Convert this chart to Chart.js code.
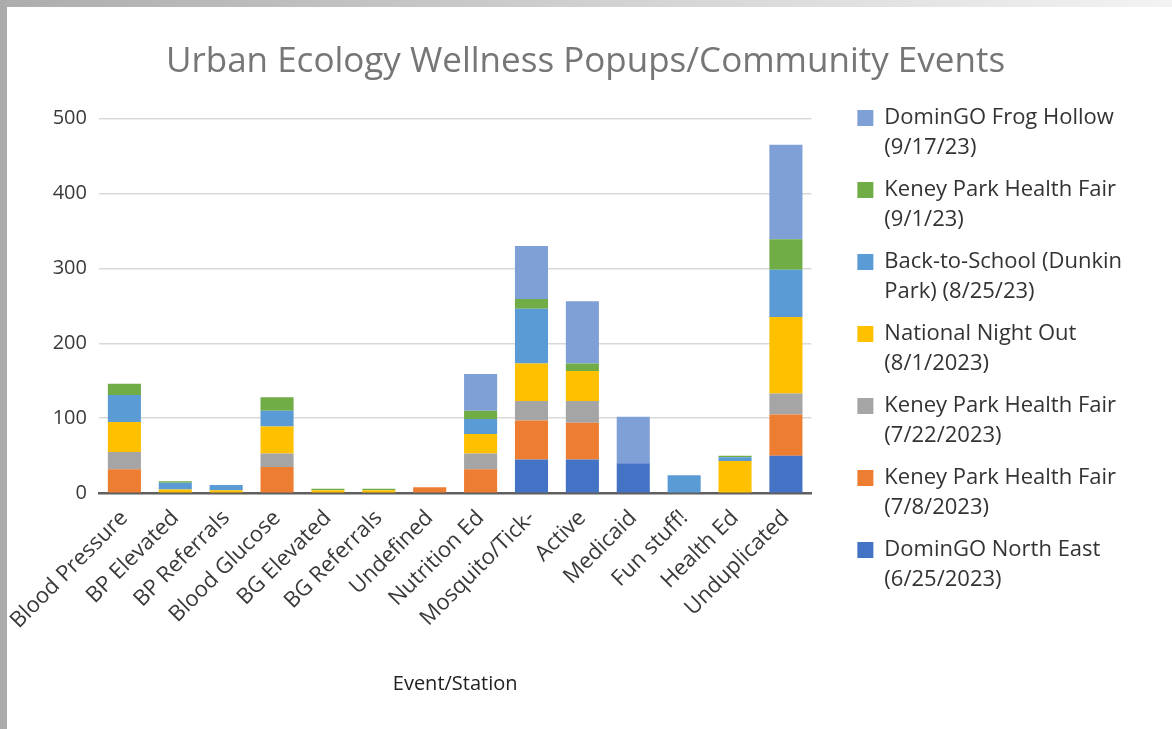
<!DOCTYPE html>
<html lang="en">
<head>
    <meta charset="UTF-8">
    <title>Urban Ecology Wellness Popups/Community Events</title>
    <script src="https://cdn.jsdelivr.net/npm/chart.js@4.4.1/dist/chart.umd.min.js"></script>
    <style>
        html, body { margin: 0; padding: 0; background: #fff; }
        #topEdge { position: absolute; left: 0; top: 0; width: 1172px; height: 7px;
                   background: linear-gradient(to right, #adadad, #f3f3f3); }
        #leftEdge { position: absolute; left: 0; top: 0; width: 7px; height: 729px; background: #ababab; }
        #wrap { position: absolute; left: 7px; top: 7px; width: 1165px; height: 722px; }
    </style>
</head>
<body>
    <div id="topEdge"></div>
    <div id="leftEdge"></div>
    <div id="wrap"><canvas id="myChart"></canvas></div>

    <script>
        // categories (x axis)
        const stations = ['Blood Pressure', 'BP Elevated', 'BP Referrals', 'Blood Glucose', 'BG Elevated',
            'BG Referrals', 'Undefined', 'Nutrition Ed', 'Mosquito/Tick-', 'Active', 'Medicaid',
            'Fun stuff!', 'Health Ed', 'Unduplicated'];

        // one array per event, bottom of the stack first
        const northEast   = [0, 0, 0, 0, 0, 0, 0, 0, 45, 45, 40, 0, 0, 50];
        const keney0708   = [32, 0, 0, 35, 0, 0, 8, 32, 52, 49, 0, 0, 0, 55];
        const keney0722   = [23, 0, 0, 18, 0, 0, 0, 21, 26, 29, 0, 0, 0, 28];
        const nightOut    = [40, 5, 4, 36, 4, 4, 0, 26, 50, 40, 0, 0, 43, 102];
        const backSchool  = [36, 9, 7, 21, 0, 0, 0, 20, 73, 0, 0, 24, 5, 63];
        const keney0901   = [15, 2, 0, 18, 2, 2, 0, 11, 13, 10, 0, 0, 2, 41];
        const frogHollow  = [0, 0, 0, 0, 0, 0, 0, 49, 71, 83, 62, 0, 0, 126];

        // legend names, split the way the legend wraps them
        const eventNames = [
            ['DominGO North East', '(6/25/2023)'],
            ['Keney Park Health Fair', '(7/8/2023)'],
            ['Keney Park Health Fair', '(7/22/2023)'],
            ['National Night Out', '(8/1/2023)'],
            ['Back-to-School (Dunkin', 'Park) (8/25/23)'],
            ['Keney Park Health Fair', '(9/1/23)'],
            ['DominGO Frog Hollow', '(9/17/23)']
        ];
        const eventColors = ['#4472C4', '#ED7D31', '#A5A5A5', '#FFC000', '#5B9BD5', '#70AD47', '#7F9FD7'];
        const yTicks = [0, 100, 200, 300, 400, 500];

        const seriesValues = [northEast, keney0708, keney0722, nightOut, backSchool, keney0901, frogHollow];

        Chart.defaults.font.family = "'Open Sans', sans-serif";

        const ctx = document.getElementById('myChart').getContext('2d');
        const myChart = new Chart(ctx, {
            type: 'bar',
            data: {
                labels: stations,
                datasets: seriesValues.map((vals, i) => ({
                    label: eventNames[i].join(' '),
                    data: vals,
                    backgroundColor: eventColors[i],
                    borderWidth: 0,
                    barPercentage: 0.65,
                    categoryPercentage: 1
                }))
            },
            options: {
                responsive: true,
                maintainAspectRatio: false,
                animation: false,
                layout: { padding: { left: 32, right: 40, top: 0, bottom: 33 } },
                plugins: {
                    title: {
                        display: true,
                        text: 'Urban Ecology Wellness Popups/Community Events',
                        color: '#767676',
                        font: { size: 35, weight: 'normal' },
                        padding: { top: 34, bottom: 13 }
                    },
                    legend: {
                        position: 'right',
                        align: 'start',
                        maxWidth: 400,
                        reverse: true,
                        // empty title only used as top spacing
                        title: {
                            display: true,
                            text: '',
                            font: { size: 10, lineHeight: 1 },
                            padding: { top: 78, bottom: 0 }
                        },
                        labels: {
                            color: '#333333',
                            font: { size: 22, lineHeight: 30 / 22 },
                            boxWidth: 16,
                            boxHeight: 16,
                            padding: 12,
                            generateLabels(chart) {
                                return chart.data.datasets.map((ds, i) => ({
                                    text: eventNames[i],
                                    fillStyle: ds.backgroundColor,
                                    strokeStyle: ds.backgroundColor,
                                    lineWidth: 0,
                                    fontColor: '#333333',
                                    datasetIndex: i,
                                    hidden: false
                                }));
                            }
                        }
                    },
                    tooltip: { enabled: false }
                },
                scales: {
                    x: {
                        stacked: true,
                        grid: { display: false },
                        border: { color: '#5f5f5f', width: 2.5 },
                        ticks: {
                            color: '#3a3a3a',
                            font: { size: 22 },
                            minRotation: 45,
                            maxRotation: 45,
                            padding: 4
                        },
                        title: {
                            display: true,
                            text: 'Event/Station',
                            color: '#222222',
                            font: { size: 20 },
                            padding: { top: 34, bottom: 0 }
                        }
                    },
                    y: {
                        stacked: true,
                        min: 0,
                        max: 530,
                        border: { display: false },
                        grid: {
                            color: '#d9d9d9',
                            lineWidth: 1.5,
                            drawTicks: false
                        },
                        afterBuildTicks(scale) {
                            scale.ticks = yTicks.map(v => ({ value: v }));
                        },
                        ticks: {
                            color: '#3a3a3a',
                            font: { size: 20 },
                            padding: 12
                        }
                    },
                    yPad: {
                        position: 'right',
                        display: true,
                        grid: { display: false },
                        border: { display: false },
                        ticks: { display: false },
                        afterFit(scale) { scale.width = 34; }
                    }
                }
            }
        });
    </script>
</body>
</html>
